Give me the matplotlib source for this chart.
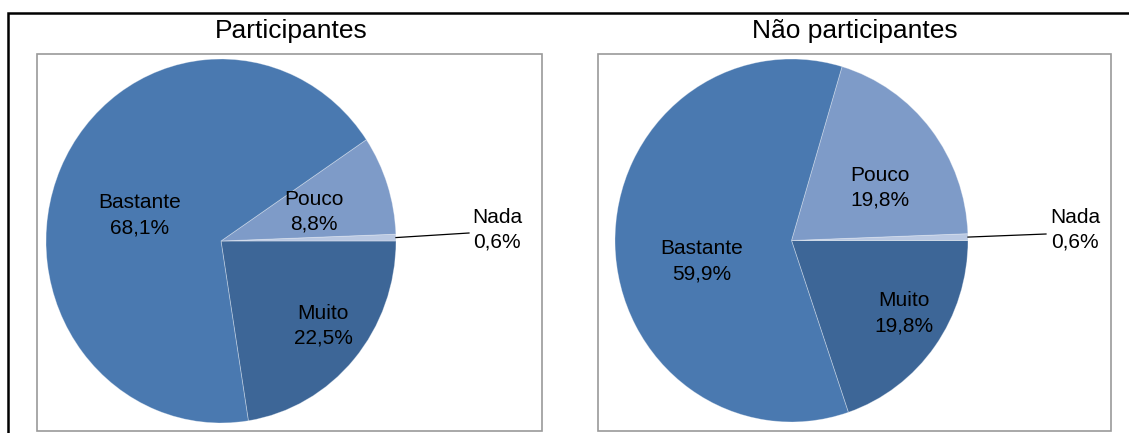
#
# Two pie charts side by side, Excel style

import numpy as np
import matplotlib.pyplot as plt
from matplotlib.patches import Rectangle
from matplotlib.lines import Line2D

plt.rcParams['font.family'] = ['Liberation Sans', 'DejaVu Sans']

titles = ['Participantes', 'Não participantes']
labels = ['Muito', 'Nada', 'Pouco', 'Bastante']
part = [22.5, 0.6, 8.8, 68.1]
nao_part = [19.8, 0.6, 19.8, 59.9]
colors = ['#3d6697', '#b9c8e2', '#7e9bc8', '#4a79b0']

W, H = 1129, 433
fig = plt.figure(figsize=(W / 100, H / 100), dpi=100)

def fx(px):
    return px / W

def fy(py):
    return 1 - py / H

# outer black frame (cut by the figure edge)
fig.add_artist(Rectangle((fx(8), -0.2), 1.2, fy(13) + 0.2, transform=fig.transFigure,
                         fill=False, edgecolor='black', linewidth=1.8))

# panel boxes, title, pie box in pixels, label spots in pixels
panels = [
    dict(box=(37, 54, 542, 431), tx=291, pie=(46, 59, 396, 423),
         lab={'Bastante': (140, 215), 'Pouco': (314, 212), 'Muito': (323, 326), 'Nada': (497, 230)},
         nada_end=(469, 233)),
    dict(box=(598, 54, 1111, 431), tx=855, pie=(615, 59, 968, 422),
         lab={'Bastante': (702, 261), 'Pouco': (880, 188), 'Muito': (904, 313), 'Nada': (1075, 230)},
         nada_end=(1046, 234)),
]

for vals, title, p in zip([part, nao_part], titles, panels):
    x0, y0, x1, y1 = p['box']
    fig.add_artist(Rectangle((fx(x0), fy(y1)), fx(x1 - x0), (y1 - y0) / H,
                             transform=fig.transFigure, fill=False,
                             edgecolor='#9a9a9a', linewidth=1.2))
    fig.text(fx(p['tx']), fy(31), title, ha='center', va='center', fontsize=19)

    a0, b0, a1, b1 = p['pie']
    ax = fig.add_axes([fx(a0), fy(b1), fx(a1 - a0), (b1 - b0) / H])
    start = -360 * vals[0] / sum(vals)
    wedges, _ = ax.pie(vals, colors=colors, startangle=start, counterclock=True,
                       wedgeprops=dict(edgecolor=(1, 1, 1, 0.35), linewidth=0.6))
    ax.set_aspect('auto')
    ax.set_xlim(-1, 1)
    ax.set_ylim(-1, 1)
    ax.axis('off')

    for lab, v in zip(labels, vals):
        tx, ty = p['lab'][lab]
        txt = lab + '\n' + ('%.1f%%' % v).replace('.', ',')
        fig.text(fx(tx), fy(ty), txt, ha='center', va='center', fontsize=15,
                 linespacing=1.4)

    # leader line for the thin Nada slice
    w = wedges[1]
    mid = np.radians((w.theta1 + w.theta2) / 2)
    ex, ey = p['nada_end']
    cx, cy = (a0 + a1) / 2, (b0 + b1) / 2
    rx, ry = (a1 - a0) / 2, (b1 - b0) / 2
    ax.add_line(Line2D([np.cos(mid), (ex - cx) / rx], [np.sin(mid), (cy - ey) / ry],
                       color='black', linewidth=0.9, clip_on=False))

plt.savefig('out.png', dpi=100)
